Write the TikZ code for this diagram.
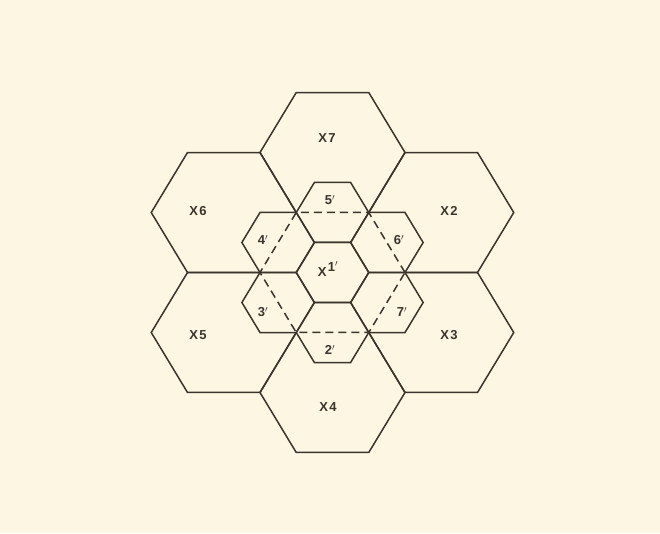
\documentclass[tikz,border=0pt]{standalone}
\usepackage{fontspec}
\setmainfont{Liberation Sans}
\definecolor{bg}{HTML}{FCF6E3}
\definecolor{ink}{HTML}{3A342B}
\begin{document}
\begin{tikzpicture}[x=1pt,y=1pt,
  edge/.style={draw=ink,line width=1.5pt,line join=miter},
  dashedge/.style={draw=ink,line width=1.5pt,dash pattern=on 8pt off 5pt},
  lbl/.style={text=ink,font=\fontsize{13}{15}\selectfont\bfseries,inner sep=0pt}]
\fill[bg] (0,0) rectangle (660,533);
\useasboundingbox (0,0) rectangle (660,533);
\begin{scope}[shift={(332.5,260.5)},yscale=0.9556]
  % outer ring of large hexagons, inner edge left out
  \foreach \p in {30,90,...,330} {
    \draw[edge,shift={(\p:125.57)}] (\p+210:72.5) -- (\p+270:72.5) -- (\p+330:72.5) -- (\p+30:72.5) -- (\p+90:72.5) -- (\p+150:72.5);
  }
  % dashed central hexagon
  \draw[dashedge] (0:72.5) -- (60:72.5) -- (120:72.5) -- (180:72.5) -- (240:72.5) -- (300:72.5) -- cycle;
  % small hexagons
  \draw[edge] (0:36.25) -- (60:36.25) -- (120:36.25) -- (180:36.25) -- (240:36.25) -- (300:36.25) -- cycle;
  \foreach \p in {30,90,...,330} {
    \draw[edge,shift={(\p:62.79)}] (0:36.25) -- (60:36.25) -- (120:36.25) -- (180:36.25) -- (240:36.25) -- (300:36.25) -- cycle;
  }
\end{scope}
% labels
\node[lbl] (x7) at (327,395) {X\kern1.5pt7};
\node[lbl] (x6) at (198,322) {X\kern1.5pt6};
\node[lbl] (x2) at (449,322) {X\kern1.5pt2};
\node[lbl] (x5) at (198,198) {X\kern1.5pt5};
\node[lbl] (x3) at (449,198) {X\kern1.5pt3};
\node[lbl] (x4) at (328,126) {X\kern1.5pt4};
\node[lbl] (x1) at (328,264) {X\kern1.5pt\raisebox{5pt}{1$'$}};
\node[lbl] (s5) at (330,333) {5$'$};
\node[lbl] (s4) at (263,293) {4$'$};
\node[lbl] (s6) at (399,293) {6$'$};
\node[lbl] (s3) at (263,221) {3$'$};
\node[lbl] (s7) at (402,221) {7$'$};
\node[lbl] (s2) at (330,183) {2$'$};
\end{tikzpicture}
\end{document}
